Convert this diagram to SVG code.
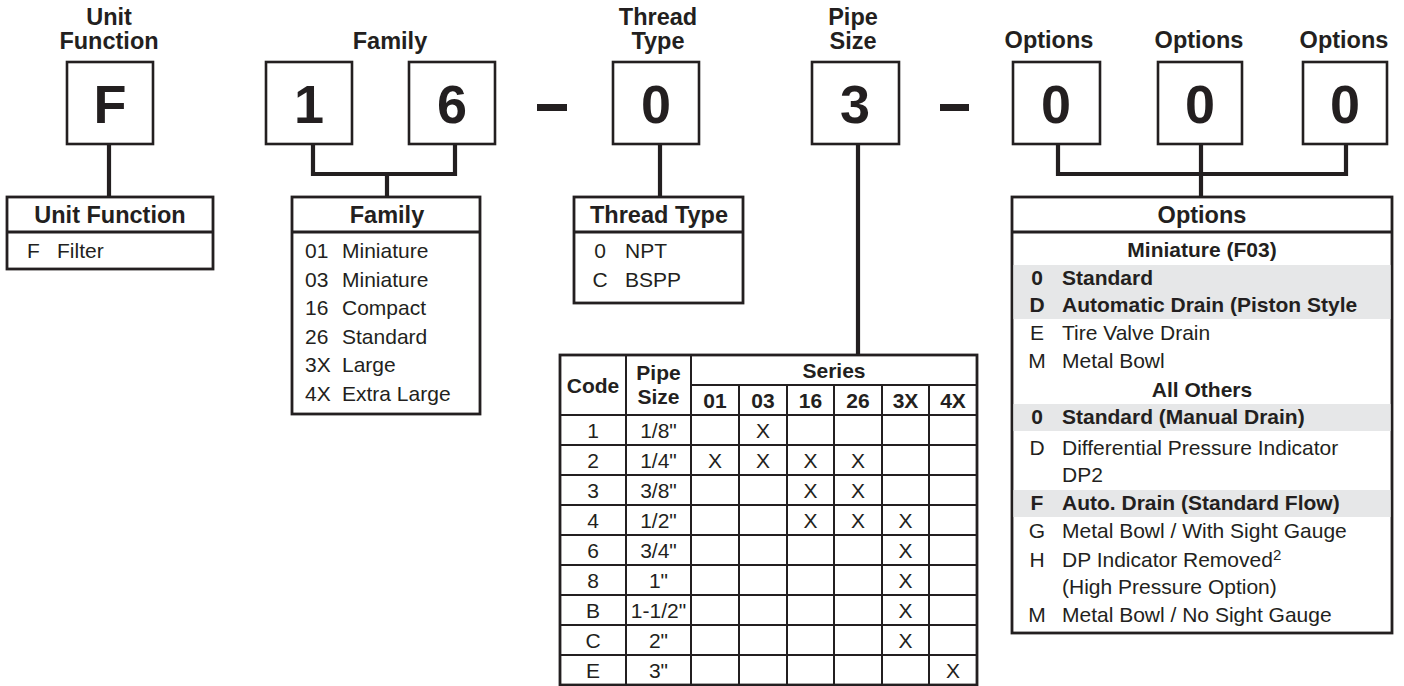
<svg xmlns="http://www.w3.org/2000/svg" width="1404" height="686" viewBox="0 0 1404 686">
<style>
text{font-family:"Liberation Sans",Arial,Helvetica,sans-serif;fill:#231f20}
.lbl{font-size:23.5px;font-weight:bold;text-anchor:middle}
.dig{font-size:54px;font-weight:bold;text-anchor:middle}
.hd{font-size:23.5px;font-weight:bold;text-anchor:middle}
.t{font-size:21px}
.tb{font-size:21px;font-weight:bold}
.c{text-anchor:middle}
.box{fill:#fff;stroke:#231f20;stroke-width:2.6}
.tbl{fill:#fff;stroke:#231f20;stroke-width:2.8}
.div{stroke:#231f20;stroke-width:2.8;fill:none}
.grid{stroke:#231f20;stroke-width:2;fill:none}
.con{stroke:#231f20;stroke-width:4.2;fill:none;stroke-linecap:square}
.shade{fill:#e6e7e8}
.dash{fill:#231f20}
</style>

<g id="connectors">
<path class="con" d="M109,145V196"/>
<path class="con" d="M313,145V174H455V145M387,174V196"/>
<path class="con" d="M660,145V196"/>
<path class="con" d="M858,145V354"/>
<path class="con" d="M1058,145V174H1346V145M1201,145V196"/>
</g>

<g id="separators">
<rect class="dash" x="537" y="104" width="30" height="7"/>
<rect class="dash" x="940" y="104" width="29" height="7"/>
</g>

<g id="unit-function">
<text class="lbl" x="109" y="25">Unit</text>
<text class="lbl" x="109" y="49">Function</text>
<rect class="box" x="67" y="62" width="86" height="82"/>
<text class="dig" x="110" y="123">F</text>
</g>

<g id="family">
<text class="lbl" x="390" y="49">Family</text>
<rect class="box" x="266" y="62" width="86" height="82"/>
<text class="dig" x="309" y="123">1</text>
<rect class="box" x="409" y="62" width="86" height="82"/>
<text class="dig" x="452" y="123">6</text>
</g>

<g id="thread-type">
<text class="lbl" x="658" y="25">Thread</text>
<text class="lbl" x="658" y="49">Type</text>
<rect class="box" x="613" y="62" width="86" height="82"/>
<text class="dig" x="656" y="123">0</text>
</g>

<g id="pipe-size">
<text class="lbl" x="853" y="25">Pipe</text>
<text class="lbl" x="853" y="49">Size</text>
<rect class="box" x="812" y="62" width="87" height="82"/>
<text class="dig" x="855" y="123">3</text>
</g>

<g id="options-1">
<text class="lbl" x="1049" y="48">Options</text>
<rect class="box" x="1013" y="62" width="87" height="82"/>
<text class="dig" x="1056" y="123">0</text>
</g>
<g id="options-2">
<text class="lbl" x="1199" y="48">Options</text>
<rect class="box" x="1158" y="62" width="84" height="82"/>
<text class="dig" x="1200" y="123">0</text>
</g>
<g id="options-3">
<text class="lbl" x="1344" y="48">Options</text>
<rect class="box" x="1303" y="62" width="84" height="82"/>
<text class="dig" x="1345" y="123">0</text>
</g>

<g id="table-unit-function">
<rect class="tbl" x="7" y="197" width="206" height="72"/>
<path class="div" d="M7,232H213"/>
<text class="hd" x="110" y="223">Unit Function</text>
<text class="t" x="27" y="258">F</text>
<text class="t" x="57" y="258">Filter</text>
</g>

<g id="table-family">
<rect class="tbl" x="292" y="197" width="188" height="217"/>
<path class="div" d="M292,232H480"/>
<text class="hd" x="387" y="223">Family</text>
<text class="t" x="305" y="258">01</text><text class="t" x="342" y="258">Miniature</text>
<text class="t" x="305" y="286.5">03</text><text class="t" x="342" y="286.5">Miniature</text>
<text class="t" x="305" y="315">16</text><text class="t" x="342" y="315">Compact</text>
<text class="t" x="305" y="343.5">26</text><text class="t" x="342" y="343.5">Standard</text>
<text class="t" x="305" y="372">3X</text><text class="t" x="342" y="372">Large</text>
<text class="t" x="305" y="400.5">4X</text><text class="t" x="342" y="400.5">Extra Large</text>
</g>

<g id="table-thread-type">
<rect class="tbl" x="574" y="197" width="169" height="106"/>
<path class="div" d="M574,232H743"/>
<text class="hd" x="659" y="223">Thread Type</text>
<text class="t c" x="600" y="258">0</text><text class="t" x="625" y="258">NPT</text>
<text class="t c" x="600" y="286.5">C</text><text class="t" x="625" y="286.5">BSPP</text>
</g>

<g id="table-pipe-size">
<rect class="tbl" x="560" y="355" width="417" height="330"/>
<path class="grid" d="M626,355V685M691,355V685M739,385V685M787,385V685M834,385V685M882,385V685M929,385V685"/>
<path class="grid" d="M691,385H977M560,415H977M560,445H977M560,475H977M560,505H977M560,535H977M560,565H977M560,595H977M560,625H977M560,655H977"/>
<text class="tb c" x="593" y="393">Code</text>
<text class="tb c" x="658.5" y="380">Pipe</text>
<text class="tb c" x="658.5" y="404">Size</text>
<text class="tb c" x="834" y="378">Series</text>
<text class="tb c" x="715" y="408">01</text>
<text class="tb c" x="763" y="408">03</text>
<text class="tb c" x="810.5" y="408">16</text>
<text class="tb c" x="858" y="408">26</text>
<text class="tb c" x="905.5" y="408">3X</text>
<text class="tb c" x="953" y="408">4X</text>
<text class="t c" x="593" y="438">1</text><text class="t c" x="658.5" y="438">1/8"</text>
<text class="t c" x="593" y="468">2</text><text class="t c" x="658.5" y="468">1/4"</text>
<text class="t c" x="593" y="498">3</text><text class="t c" x="658.5" y="498">3/8"</text>
<text class="t c" x="593" y="528">4</text><text class="t c" x="658.5" y="528">1/2"</text>
<text class="t c" x="593" y="558">6</text><text class="t c" x="658.5" y="558">3/4"</text>
<text class="t c" x="593" y="588">8</text><text class="t c" x="658.5" y="588">1"</text>
<text class="t c" x="593" y="618">B</text><text class="t c" x="658.5" y="618">1-1/2"</text>
<text class="t c" x="593" y="648">C</text><text class="t c" x="658.5" y="648">2"</text>
<text class="t c" x="593" y="678">E</text><text class="t c" x="658.5" y="678">3"</text>
<text class="t c" x="763" y="438">X</text>
<text class="t c" x="715" y="468">X</text>
<text class="t c" x="763" y="468">X</text>
<text class="t c" x="810.5" y="468">X</text>
<text class="t c" x="858" y="468">X</text>
<text class="t c" x="810.5" y="498">X</text>
<text class="t c" x="858" y="498">X</text>
<text class="t c" x="810.5" y="528">X</text>
<text class="t c" x="858" y="528">X</text>
<text class="t c" x="905.5" y="528">X</text>
<text class="t c" x="905.5" y="558">X</text>
<text class="t c" x="905.5" y="588">X</text>
<text class="t c" x="905.5" y="618">X</text>
<text class="t c" x="905.5" y="648">X</text>
<text class="t c" x="953" y="678">X</text>
</g>

<g id="table-options">
<rect class="tbl" x="1012" y="197" width="380" height="436"/>
<rect class="shade" x="1013.5" y="265" width="377" height="54"/>
<rect class="shade" x="1013.5" y="404" width="377" height="27"/>
<rect class="shade" x="1013.5" y="490" width="377" height="27"/>
<path class="div" d="M1012,232H1392"/>
<text class="hd" x="1202" y="223">Options</text>
<text class="tb c" x="1202" y="257">Miniature (F03)</text>
<text class="tb c" x="1037" y="285">0</text><text class="tb" x="1062" y="285">Standard</text>
<text class="tb c" x="1037" y="312">D</text><text class="tb" x="1062" y="312">Automatic Drain (Piston Style</text>
<text class="t c" x="1037" y="340">E</text><text class="t" x="1062" y="340">Tire Valve Drain</text>
<text class="t c" x="1037" y="368">M</text><text class="t" x="1062" y="368">Metal Bowl</text>
<text class="tb c" x="1202" y="397">All Others</text>
<text class="tb c" x="1037" y="424">0</text><text class="tb" x="1062" y="424">Standard (Manual Drain)</text>
<text class="t c" x="1037" y="455">D</text><text class="t" x="1062" y="455">Differential Pressure Indicator</text>
<text class="t" x="1062" y="482">DP2</text>
<text class="tb c" x="1037" y="510">F</text><text class="tb" x="1062" y="510">Auto. Drain (Standard Flow)</text>
<text class="t c" x="1037" y="538">G</text><text class="t" x="1062" y="538">Metal Bowl / With Sight Gauge</text>
<text class="t c" x="1037" y="566.5">H</text><text class="t" x="1062" y="566.5">DP Indicator Removed<tspan font-size="15" dy="-7">2</tspan></text>
<text class="t" x="1062" y="593.5">(High Pressure Option)</text>
<text class="t c" x="1037" y="621.5">M</text><text class="t" x="1062" y="621.5">Metal Bowl / No Sight Gauge</text>
</g>
</svg>
